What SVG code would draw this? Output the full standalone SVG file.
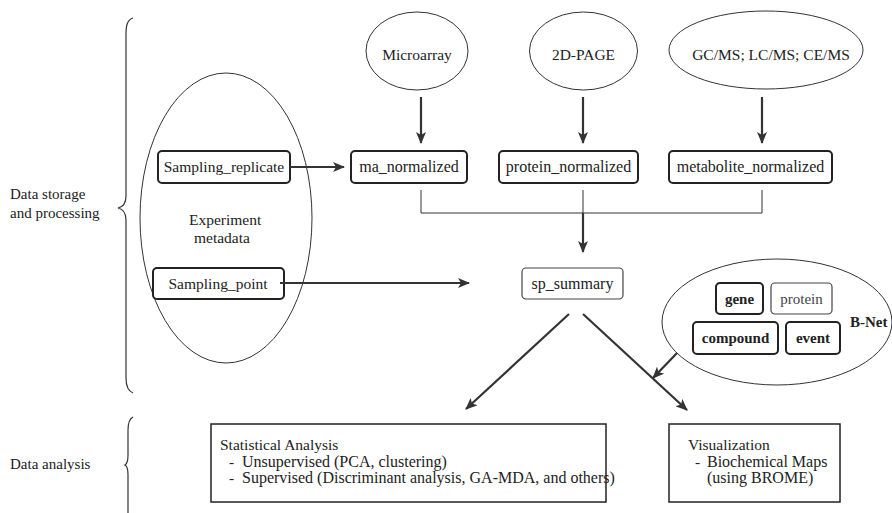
<svg xmlns="http://www.w3.org/2000/svg" width="892" height="513" viewBox="0 0 892 513" font-family="'Liberation Serif', Tinos, 'Times New Roman', 'DejaVu Serif', serif">
<defs>
<style>
text{fill:#222;font-size:15.5px}
.c{text-anchor:middle}
.b{font-weight:bold}
.ell{fill:none;stroke:#333;stroke-width:1}
.rb{fill:#fff;stroke:#222;stroke-width:2}
.rt{fill:#fff;stroke:#444;stroke-width:1.2}
.box{fill:#fff;stroke:#222;stroke-width:1.5}
.thin{fill:none;stroke:#333;stroke-width:1}
.arr{fill:none;stroke:#333;stroke-width:2.2;marker-end:url(#ah)}
.brace{fill:none;stroke:#333;stroke-width:1.2}
</style>
<marker id="ah" markerUnits="userSpaceOnUse" markerWidth="12" markerHeight="10" refX="11" refY="5" orient="auto">
<path d="M0,0 L12,5 L0,10 L3,5 z" fill="#333"/>
</marker>
</defs>
<rect width="892" height="513" fill="#fff"/>

<g id="labels">
<text x="10" y="199" style="font-size:15px">Data storage</text>
<text x="10" y="218" style="font-size:15px">and processing</text>
<text x="10" y="469" style="font-size:15px">Data analysis</text>
<path class="brace" d="M133,18 C127,20 126,26 126,34 L126,196 C126,203 123,207 118,208 C123,209 126,213 126,220 L126,378 C126,386 128,391 133,393"/>
<path class="brace" d="M133,417 C129,419 128,423 128,430 L128,455 C128,461 127,464 125,465 C127,466 128,469 128,475 L128,513"/>
</g>

<g id="experiment-metadata">
<ellipse class="ell" cx="226" cy="218" rx="86" ry="145"/>
<text x="189" y="225">Experiment</text>
<text x="194" y="243">metadata</text>
</g>

<g id="sampling-replicate">
<rect class="rb" x="158" y="151" width="132" height="32" rx="4"/>
<text class="c" x="224" y="172">Sampling_replicate</text>
</g>

<g id="sampling-point">
<rect class="rb" x="153" y="268" width="131" height="31" rx="4"/>
<text class="c" x="218" y="289">Sampling_point</text>
</g>

<g id="microarray">
<ellipse class="ell" cx="417" cy="51" rx="51" ry="39"/>
<text class="c" x="417" y="60">Microarray</text>
</g>

<g id="2d-page">
<ellipse class="ell" cx="583.5" cy="51" rx="54" ry="39"/>
<text class="c" x="583.5" y="60">2D-PAGE</text>
</g>

<g id="gcms">
<ellipse class="ell" cx="766" cy="50" rx="97" ry="39"/>
<text class="c" x="771" y="60">GC/MS; LC/MS; CE/MS</text>
</g>

<g id="ma-normalized">
<rect class="rb" x="351" y="151" width="116" height="32" rx="4"/>
<text class="c" x="409" y="172" style="font-size:16px">ma_normalized</text>
</g>

<g id="protein-normalized">
<rect class="rb" x="499" y="151" width="139" height="32" rx="4"/>
<text class="c" x="568.5" y="172" style="font-size:16px">protein_normalized</text>
</g>

<g id="metabolite-normalized">
<rect class="rb" x="669" y="151" width="163" height="32" rx="4"/>
<text class="c" x="750.5" y="172" style="font-size:16px">metabolite_normalized</text>
</g>

<g id="sp-summary">
<rect class="rt" x="522" y="268" width="101" height="31" rx="4"/>
<text class="c" x="572.5" y="289" style="font-size:16px">sp_summary</text>
</g>

<g id="b-net">
<ellipse class="ell" cx="777" cy="322" rx="115" ry="63"/>
<text class="b" x="850" y="327" style="font-size:15px">B-Net</text>
<rect class="rb" x="716" y="283" width="47" height="31" rx="4"/>
<text class="c b" x="739.5" y="304" style="font-size:15px">gene</text>
<rect class="rt" x="771" y="283" width="61" height="31" rx="4"/>
<text class="c" x="801.5" y="304" style="font-size:15px;fill:#444">protein</text>
<rect class="rb" x="693" y="322" width="85" height="32" rx="4"/>
<text class="c b" x="735.5" y="343" style="font-size:15px">compound</text>
<rect class="rb" x="786" y="322" width="54" height="32" rx="4"/>
<text class="c b" x="813" y="343" style="font-size:15px">event</text>
</g>

<g id="statistical-analysis">
<rect class="box" x="211" y="424" width="395" height="78"/>
<text x="220" y="450">Statistical Analysis</text>
<text x="229" y="467">-</text>
<text x="242" y="467" style="font-size:16px">Unsupervised (PCA, clustering)</text>
<text x="229" y="483">-</text>
<text x="242" y="483" style="font-size:16px">Supervised (Discriminant analysis, GA-MDA, and others)</text>
</g>

<g id="visualization">
<rect class="box" x="669" y="424" width="171" height="78"/>
<text x="688" y="450">Visualization</text>
<text x="695" y="467">-</text>
<text x="707" y="467" style="font-size:16px">Biochemical Maps</text>
<text x="707" y="483" style="font-size:16px">(using BROME)</text>
</g>

<g id="connectors">
<line class="arr" x1="421" y1="97" x2="421" y2="143"/>
<line class="arr" x1="583" y1="97" x2="583" y2="143"/>
<line class="arr" x1="762" y1="97" x2="762" y2="143"/>
<line class="arr" x1="290" y1="167" x2="344" y2="167"/>
<path class="thin" d="M421,190 V213 H762 V190 M583,190 V213"/>
<line class="arr" x1="583" y1="213" x2="583" y2="252"/>
<line class="arr" x1="280" y1="283" x2="469" y2="283"/>
<line class="arr" x1="569" y1="314" x2="466" y2="409"/>
<line class="arr" x1="583" y1="314" x2="687" y2="410"/>
<line class="arr" x1="677" y1="353" x2="653" y2="378"/>
</g>
</svg>
